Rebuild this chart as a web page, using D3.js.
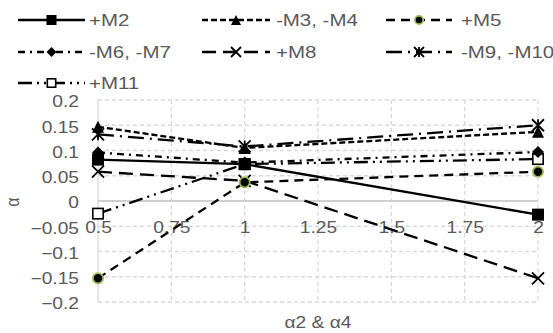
<!DOCTYPE html>
<html><head><meta charset="utf-8">
<script src="https://cdn.jsdelivr.net/npm/d3@7"></script>
<style>html,body{margin:0;padding:0;background:#fff;}svg{display:block;}</style>
</head><body>
<svg id="c" width="553" height="333"></svg>
<script>
// ---- data ----
const xValues = [0.5, 1, 2];
const seriesNames = ["+M2", "-M3, -M4", "+M5", "-M6, -M7", "+M8", "-M9, -M10", "+M11"];
const valsM2  = [0.082, 0.073, -0.027];
const valsM3  = [0.147, 0.105, 0.137];
const valsM5  = [-0.153, 0.037, 0.058];
const valsM6  = [0.096, 0.076, 0.097];
const valsM8  = [0.058, 0.040, -0.153];
const valsM9  = [0.132, 0.108, 0.150];
const valsM11 = [-0.025, 0.073, 0.083];
const xTicks = [0.5, 0.75, 1, 1.25, 1.5, 1.75, 2];
const yTicks = [-0.2, -0.15, -0.1, -0.05, 0, 0.05, 0.1, 0.15, 0.2];
const xTitle = "α2 & α4";
const yTitle = "α";

const seriesValues = [valsM2, valsM3, valsM5, valsM6, valsM8, valsM9, valsM11];
const dashes = [null, "6,3", "9,6", "7,5,2,5", "14,7", "16,6,2,6", "14,5,2,5,2,5"];
const markers = ["square", "triangle", "circle", "diamond", "x", "asterisk", "opensquare"];

const svg = d3.select("#c");
const FONT = "'Liberation Sans', Arial, sans-serif";
const TXT = "#595959";
const SX = 1.2;

const x = d3.scaleLinear().domain([0.5, 2]).range([98, 538]);
const y = d3.scaleLinear().domain([-0.2, 0.2]).range([302, 100]);

// gridlines
const g = svg.append("g");
g.selectAll("line.h").data(yTicks).enter().append("line")
  .attr("x1", x(0.5)).attr("x2", x(2))
  .attr("y1", d => y(d)).attr("y2", d => y(d))
  .attr("stroke", "#d9d9d9").attr("stroke-width", 1.3)
  .attr("stroke-dasharray", d => d === 0 ? null : "4,3");
g.selectAll("line.v").data(xTicks).enter().append("line")
  .attr("x1", d => x(d)).attr("x2", d => x(d))
  .attr("y1", y(0.2)).attr("y2", y(-0.2))
  .attr("stroke", "#d9d9d9").attr("stroke-width", 1.3)
  .attr("stroke-dasharray", d => d === 0.5 ? null : "4,3");
// zero axis line
g.append("line").attr("x1", x(0.5)).attr("x2", x(2)).attr("y1", y(0)).attr("y2", y(0))
  .attr("stroke", "#c8c8c8").attr("stroke-width", 1.6);

// axes (labels)
const ya = svg.append("g").attr("transform", `translate(${x(0.5)},0)`)
  .call(d3.axisLeft(y).tickValues(yTicks).tickSize(0).tickFormat(d => d3.format("")(+d.toFixed(2))));
ya.select(".domain").remove();
ya.selectAll("text").attr("x", 0).attr("dy", "0.36em")
  .attr("transform", `translate(-19,1) scale(${SX},1)`)
  .attr("fill", TXT).style("font-family", FONT).style("font-size", "16px");

const xa = svg.append("g").attr("transform", `translate(0,222)`)
  .call(d3.axisBottom(x).tickValues(xTicks).tickSize(0).tickFormat(d => String(d)));
xa.select(".domain").remove();
xa.selectAll("text").attr("y", 0).attr("dy", "0.71em")
  .attr("transform", `scale(${SX},1)`)
  .attr("fill", TXT).style("font-family", FONT).style("font-size", "16px");

// titles
svg.append("text").attr("transform", `translate(318,328) scale(${SX},1)`)
  .attr("text-anchor", "middle").attr("fill", TXT)
  .style("font-family", FONT).style("font-size", "16px").text(xTitle);
svg.append("text").attr("transform", `translate(19,202) rotate(-90) scale(1,${SX})`)
  .attr("text-anchor", "middle").attr("fill", TXT)
  .style("font-family", FONT).style("font-size", "16px").text(yTitle);

// marker drawing
function drawMarker(sel, type, cx, cy, s) {
  const h = s / 2;
  const k = sel.append("g").attr("transform", `translate(${cx},${cy})`);
  if (type === "square") {
    k.append("rect").attr("x", -h).attr("y", -h).attr("width", s).attr("height", s).attr("fill", "#000");
  } else if (type === "opensquare") {
    k.append("rect").attr("x", -h + 0.8).attr("y", -h + 0.8).attr("width", s - 1.6).attr("height", s - 1.6)
      .attr("fill", "#fff").attr("stroke", "#000").attr("stroke-width", 1.6);
  } else if (type === "triangle") {
    k.append("path").attr("d", `M0,${-h}L${h},${h}L${-h},${h}Z`).attr("fill", "#000");
  } else if (type === "diamond") {
    k.append("path").attr("d", `M0,${-h}L${h},0L0,${h}L${-h},0Z`).attr("fill", "#000");
  } else if (type === "circle") {
    k.append("circle").attr("r", h - 0.9).attr("fill", "#000").attr("stroke", "#9bbb59").attr("stroke-width", 1.8);
  } else if (type === "x") {
    k.append("path").attr("d", `M${-h},${-h}L${h},${h}M${h},${-h}L${-h},${h}`)
      .attr("stroke", "#000").attr("stroke-width", 1.8);
  } else if (type === "asterisk") {
    k.append("path").attr("d", `M${-h},${-h}L${h},${h}M${h},${-h}L${-h},${h}M0,${-h}L0,${h}`)
      .attr("stroke", "#000").attr("stroke-width", 1.8);
  }
}

// series (drawn in reverse order so the first series sits on top)
const line = d3.line().x((d, i) => x(xValues[i])).y(d => y(d));
const plot = svg.append("g");
const order = d3.range(seriesValues.length).reverse();
order.forEach(si => {
  plot.append("path").datum(seriesValues[si]).attr("d", line)
    .attr("fill", "none").attr("stroke", "#000").attr("stroke-width", 2.3)
    .attr("stroke-dasharray", dashes[si]);
});
order.forEach(si => {
  seriesValues[si].forEach((v, i) => drawMarker(plot, markers[si], x(xValues[i]), y(v), 12));
});

// legend
const legCols = [{x1: 18, x2: 85, tx: 89}, {x1: 202, x2: 270, tx: 276}, {x1: 386, x2: 452, tx: 461}];
const legRows = [20, 52, 83];
const leg = svg.append("g");
seriesNames.forEach((name, i) => {
  const c = legCols[i % 3], ry = legRows[Math.floor(i / 3)];
  leg.append("line").attr("x1", c.x1).attr("x2", c.x2).attr("y1", ry).attr("y2", ry)
    .attr("stroke", "#000").attr("stroke-width", 2.3).attr("stroke-dasharray", dashes[i]);
  const mx = (c.x1 + c.x2) / 2;
  drawMarker(leg, markers[i], mx, ry, 10);
  leg.append("text").attr("transform", `translate(${c.tx},${ry + 6}) scale(1.28,1)`)
    .attr("fill", TXT).style("font-family", FONT).style("font-size", "16px").text(name);
});
</script>
</body></html>
